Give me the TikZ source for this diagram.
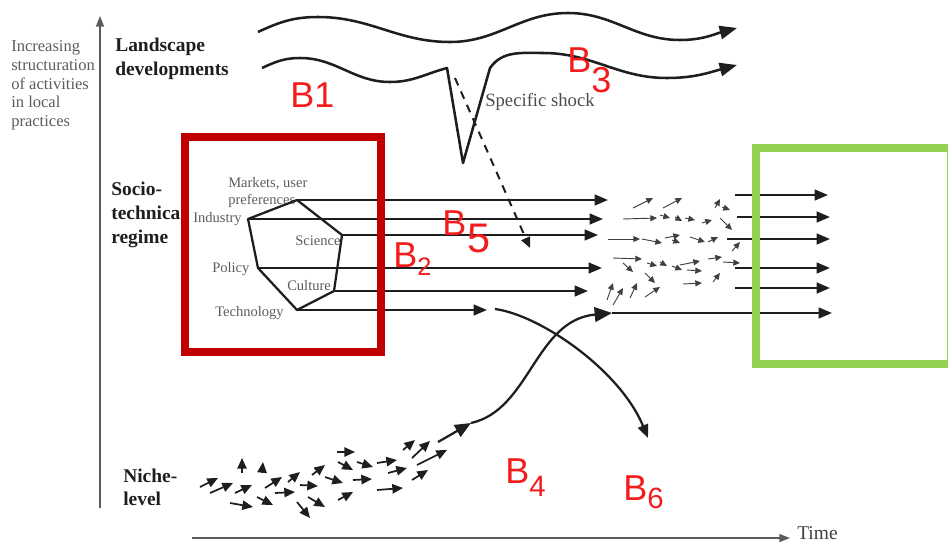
\documentclass[tikz,border=0pt]{standalone}
\usepackage{fontspec}
\setmainfont{Liberation Serif}
\newfontfamily\handfont{Liberation Sans}
\usetikzlibrary{arrows.meta}
\definecolor{ink}{HTML}{1E1E1E}
\definecolor{greytext}{HTML}{5C5C5C}
\definecolor{boxred}{HTML}{C00000}
\definecolor{boxgreen}{HTML}{92D050}
\definecolor{penred}{HTML}{F21C1C}

\begin{document}
\begin{tikzpicture}[x=0.75pt,y=-0.75pt,
  flow/.style={draw=ink,line width=1.7pt,-{Triangle[length=10pt,width=8pt]}},
  wave/.style={draw=ink,line width=1.9pt,line join=round,-{Triangle[length=13pt,width=10pt]}},
  bit/.style={draw=ink!85,line width=0.7pt,-{Triangle[length=5pt,width=4.5pt]}},
  nichebit/.style={draw=ink,line width=1.3pt,-{Triangle[length=8pt,width=7pt]}},
  levellabel/.style={font=\bfseries\fontsize{14.6}{17}\selectfont,text=ink,anchor=base west,inner sep=0},
  sidelabel/.style={font=\fontsize{12.4}{14}\selectfont,text=greytext,anchor=base west,inner sep=0},
  dimlabel/.style={font=\fontsize{10.9}{12}\selectfont,text=greytext,anchor=base west,inner sep=0},
  handlabel/.style={font=\handfont\fontsize{27}{27}\selectfont,text=penred,anchor=base west,inner sep=0},
  frame/.style={line width=6pt}]

\useasboundingbox (0,0) rectangle (948,543);

% ---- axes ----
\coordinate (yaxis0) at (100,508);
\coordinate (yaxis1) at (100,16);
\coordinate (xaxis0) at (192,538);
\coordinate (xaxis1) at (790,538);
\draw[draw=greytext,line width=1.1pt,-{Triangle[length=8pt,width=6pt]}] (yaxis0) -- (yaxis1);
\draw[draw=greytext,line width=1.1pt,-{Triangle[length=8pt,width=6pt]}] (xaxis0) -- (xaxis1);
\node[font=\fontsize{14.6}{17}\selectfont,text=ink!85,anchor=base west,inner sep=0] (time) at (797,539) {Time};

% ---- vertical axis caption ----
\node[sidelabel] (s1) at (11,51) {Increasing};
\node[sidelabel] (s2) at (11,70) {structuration};
\node[sidelabel] (s3) at (11,89) {of activities};
\node[sidelabel] (s4) at (11,107.5) {in local};
\node[sidelabel] (s5) at (11,126) {practices};

% ---- level names ----
\node[levellabel] (land1) at (115,51) {Landscape};
\node[levellabel] (land2) at (115,75) {developments};
\node[levellabel] (reg1) at (111,195) {Socio-};
\node[levellabel] (reg2) at (111,219) {technical};
\node[levellabel] (reg3) at (111,243) {regime};
\node[levellabel] (niche1) at (123,482) {Niche-};
\node[levellabel] (niche2) at (123,505) {level};

% ---- landscape waves ----
\coordinate (w1s) at (258,32);
\coordinate (w1e) at (737,28);
\draw[wave] (w1s) to[out=25,in=180] (318,17) to[out=0,in=180] (450,42)
  to[out=0,in=180] (568,13) to[out=0,in=180] (680,40) to[out=0,in=195] (w1e);
\coordinate (w2s) at (262,68);
\coordinate (shockL) at (447,68);
\coordinate (shockB) at (463,163);
\coordinate (shockR) at (490,68);
\coordinate (w2e) at (737,65);
\draw[wave] (w2s) to[out=25,in=180] (300,58) to[out=0,in=180] (390,82)
  to[out=0,in=195] (shockL) -- (shockB) -- (shockR) to[out=55,in=180] (543,53)
  to[out=0,in=180] (667,78) to[out=0,in=195] (w2e);
\node[font=\fontsize{14}{16}\selectfont,text=ink!80,anchor=base west,inner sep=0] (shock) at (485,106) {Specific shock};
\coordinate (dashS) at (455,78);
\coordinate (dashE) at (530,248);
\draw[ink,line width=1.5pt,dash pattern=on 6pt off 5pt,-{Triangle[length=8pt,width=7pt]}] (dashS) -- (dashE);

% ---- regime hexagon ----
\coordinate (hTop) at (297,200);
\coordinate (hInd) at (248,219);
\coordinate (hSci) at (342,235);
\coordinate (hPol) at (258,268);
\coordinate (hCul) at (334,291);
\coordinate (hTec) at (297,310);
\node[dimlabel] (mk1) at (228,187) {Markets, user};
\node[dimlabel] (mk2) at (228,204) {preferences};
\node[dimlabel] (ind) at (193,222) {Industry};
\node[dimlabel] (sci) at (295,245) {Science};
\node[dimlabel] (pol) at (212,272) {Policy};
\node[dimlabel] (cul) at (287,290) {Culture};
\node[dimlabel] (tec) at (215,316) {Technology};
\draw[ink,line width=1.7pt,line join=round] (hTop) -- (hSci) -- (hCul) -- (hTec) -- (hPol) -- (hInd) -- cycle;

% regime trajectories
\coordinate (eTop) at (608,200);
\coordinate (eInd) at (603,219);
\coordinate (eSci) at (598,235);
\coordinate (ePol) at (602,268);
\coordinate (eCul) at (588,291);
\coordinate (eTec) at (487,310);
\draw[flow] (hTop) -- (eTop);
\draw[flow] (hInd) -- (eInd);
\draw[flow] (hSci) -- (eSci);
\draw[flow] (hPol) -- (ePol);
\draw[flow] (hCul) -- (eCul);
\draw[flow] (hTec) -- (eTec);

% declining branch
\coordinate (decS) at (495,309);
\coordinate (decE) at (648,438);
\draw[flow] (decS) .. controls (540,315) and (620,370) .. (decE);

% niche breakthrough
\coordinate (nA) at (438,442);
\coordinate (nB) at (471,423);
\coordinate (nC) at (612,313);
\coordinate (nD) at (832,313);
\draw[flow,-{Triangle[length=12pt,width=10pt]}] (nA) -- (nB);
\draw[flow,-{Triangle[length=13pt,width=11pt]}] (nB) .. controls (530,410) and (535,320) .. (nC);
\draw[flow] (nC) -- (nD);

% niche swarm
\foreach \ax/\ay/\bx/\by in {
  200/487/218/478, 210/493/233/483, 235/493/252/485, 242/473/242/458,
  262/473/263/462, 265/488/282/477, 230/503/253/507, 257/497/273/505,
  275/493/295/492, 288/482/300/472, 300/485/318/486, 297/502/310/518,
  308/497/325/507, 312/475/325/465, 325/477/343/483, 337/452/355/452,
  338/462/353/470, 338/500/353/492, 353/480/372/479, 357/462/373/467,
  377/463/397/460, 377/490/403/488, 388/473/407/468, 403/450/415/440,
  412/458/430/441, 417/465/447/450, 412/480/428/470}
  \draw[nichebit] (\ax,\ay) -- (\bx,\by);

% regime transformation swarm
\foreach \ax/\ay/\bx/\by in {
  633/208/653/198, 663/208/682/198, 715/208/720/199, 722/207/730/210,
  623/219/657/218, 660/215/670/218, 675/217/682/221, 685/218/695/220,
  702/223/712/220, 720/218/732/230, 608/239/640/239, 642/239/662/243,
  665/238/680/235, 672/240/680/243, 690/237/705/242, 708/242/718/237,
  732/251/740/242, 613/258/642/259, 623/263/633/272, 647/263/657/266,
  660/262/667/266, 672/266/682/270, 680/265/700/261, 687/270/702/271,
  708/259/722/257, 723/262/740/263, 645/273/655/283, 683/284/702/283,
  713/282/720/273, 607/300/613/283, 613/305/623/288, 630/298/637/283,
  645/297/660/287}
  \draw[bit] (\ax,\ay) -- (\bx,\by);

% new regime
\coordinate (r1s) at (735,195); \coordinate (r1e) at (828,195);
\coordinate (r2s) at (737,217); \coordinate (r2e) at (830,217);
\coordinate (r3s) at (727,239); \coordinate (r3e) at (830,239);
\coordinate (r4s) at (735,268); \coordinate (r4e) at (830,268);
\coordinate (r5s) at (735,288); \coordinate (r5e) at (830,288);
\draw[flow] (r1s) -- (r1e);
\draw[flow] (r2s) -- (r2e);
\draw[flow] (r3s) -- (r3e);
\draw[flow] (r4s) -- (r4e);
\draw[flow] (r5s) -- (r5e);

% ---- highlight frames ----
\draw[boxred,frame] (185,137) rectangle (381,352);
\draw[boxgreen,frame] (756,148) rectangle (951,364);

% ---- handwritten markers ----
\node[handlabel] (b1) at (290,107) {B1};
\node[handlabel] (b3) at (567,72) {B\raisebox{-15pt}{3}};
\node[handlabel] (b5) at (442,235) {B\kern1pt\raisebox{-13pt}{\fontsize{31}{31}\selectfont 5}};
\node[handlabel] (b2) at (393,267) {B\raisebox{-6pt}{\fontsize{19}{19}\selectfont 2}};
\node[handlabel] (b4) at (505,483) {B\raisebox{-10pt}{\fontsize{22}{22}\selectfont 4}};
\node[handlabel] (b6) at (623,500) {B\raisebox{-6pt}{\fontsize{22}{22}\selectfont 6}};

\end{tikzpicture}
\end{document}
